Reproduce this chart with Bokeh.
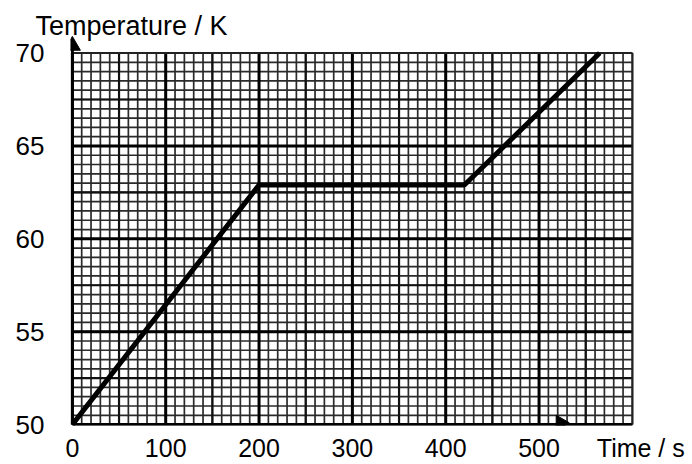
import numpy as np
from bokeh.plotting import figure
from bokeh.models import FixedTicker, Range1d
from bokeh.embed import file_html
from bokeh.resources import INLINE

# ---- data ----
time_s = [0, 200, 420, 565]
temp_K = [50, 62.9, 62.9, 70]
x_ticks = [0, 100, 200, 300, 400, 500]
y_ticks = [50, 55, 60, 65, 70]
x_label = "Time / s"
y_label = "Temperature / K"

X0, X1 = 0, 600
Y0, Y1 = 50, 70
X_LABEL_AT = 609  # where the x-axis name sits, right of the last tick

FONT = "Liberation Sans"

p = figure(width=692, height=464, output_backend="svg", toolbar_location=None,
           x_range=Range1d(-2, 664.4), y_range=Range1d(49.95, 71),
           min_border_left=70, min_border_right=0,
           min_border_top=34, min_border_bottom=36)
p.outline_line_color = None
p.grid.visible = False
p.background_fill_color = "white"

# graph-paper grid
minor_x = np.arange(X0, X1 + 1, 10)
minor_y = np.arange(Y0, Y1 + 0.01, 0.5)
mid_x = np.arange(X0 + 50, X1, 100)
mid_y = np.arange(Y0 + 2.5, Y1, 5)
major_x = np.arange(X0, X1, 100)
major_y = np.arange(Y0, Y1, 5)

p.segment(x0=minor_x, x1=minor_x, y0=Y0, y1=Y1, line_color="#2a2a2a", line_width=1.7)
p.segment(x0=X0, x1=X1, y0=minor_y, y1=minor_y, line_color="#2a2a2a", line_width=1.7)
p.segment(x0=mid_x, x1=mid_x, y0=Y0, y1=Y1, line_color="#111111", line_width=2.2)
p.segment(x0=X0, x1=X1, y0=mid_y, y1=mid_y, line_color="#111111", line_width=2.2)
p.segment(x0=major_x, x1=major_x, y0=Y0, y1=Y1, line_color="black", line_width=3)
p.segment(x0=X0, x1=X1, y0=major_y, y1=major_y, line_color="black", line_width=3)
# outer edges
p.segment(x0=[X1], x1=[X1], y0=Y0, y1=Y1, line_color="#222222", line_width=2)
p.segment(x0=X0, x1=X1, y0=[Y1], y1=[Y1], line_color="#222222", line_width=2)

# axis arrows
p.segment(x0=[X0], x1=[X0], y0=Y0, y1=70.5, line_color="black", line_width=3)
p.scatter(x=[X0], y=[70.4], marker="triangle", size=16, color="black")
p.scatter(x=[523], y=[Y0 + 0.1], marker="triangle", size=15, color="black", angle=-np.pi / 2)

# data line
p.line(time_s, temp_K, line_color="black", line_width=5)

for ax, ticks, so, fs in ((p.xaxis, x_ticks + [X_LABEL_AT], 8, "25px"),
                          (p.yaxis, y_ticks, 26, "26px")):
    ax.ticker = FixedTicker(ticks=ticks)
    ax.axis_line_color = None
    ax.major_tick_line_color = None
    ax.minor_tick_line_color = None
    ax.major_tick_out = 0
    ax.major_tick_in = 0
    ax.minor_tick_out = 0
    ax.minor_tick_in = 0
    ax.major_label_text_font = FONT
    ax.major_label_text_font_size = fs
    ax.major_label_text_color = "black"
    ax.major_label_standoff = so
p.xaxis.major_label_overrides = {X_LABEL_AT: x_label}

p.title.text = y_label
p.title.align = "left"
p.title.offset = -35
p.title.standoff = -12
p.title.text_font = FONT
p.title.text_font_size = "27px"
p.title.text_font_style = "normal"
p.title.text_color = "black"

open("out.html", "w").write(file_html(p, INLINE))
